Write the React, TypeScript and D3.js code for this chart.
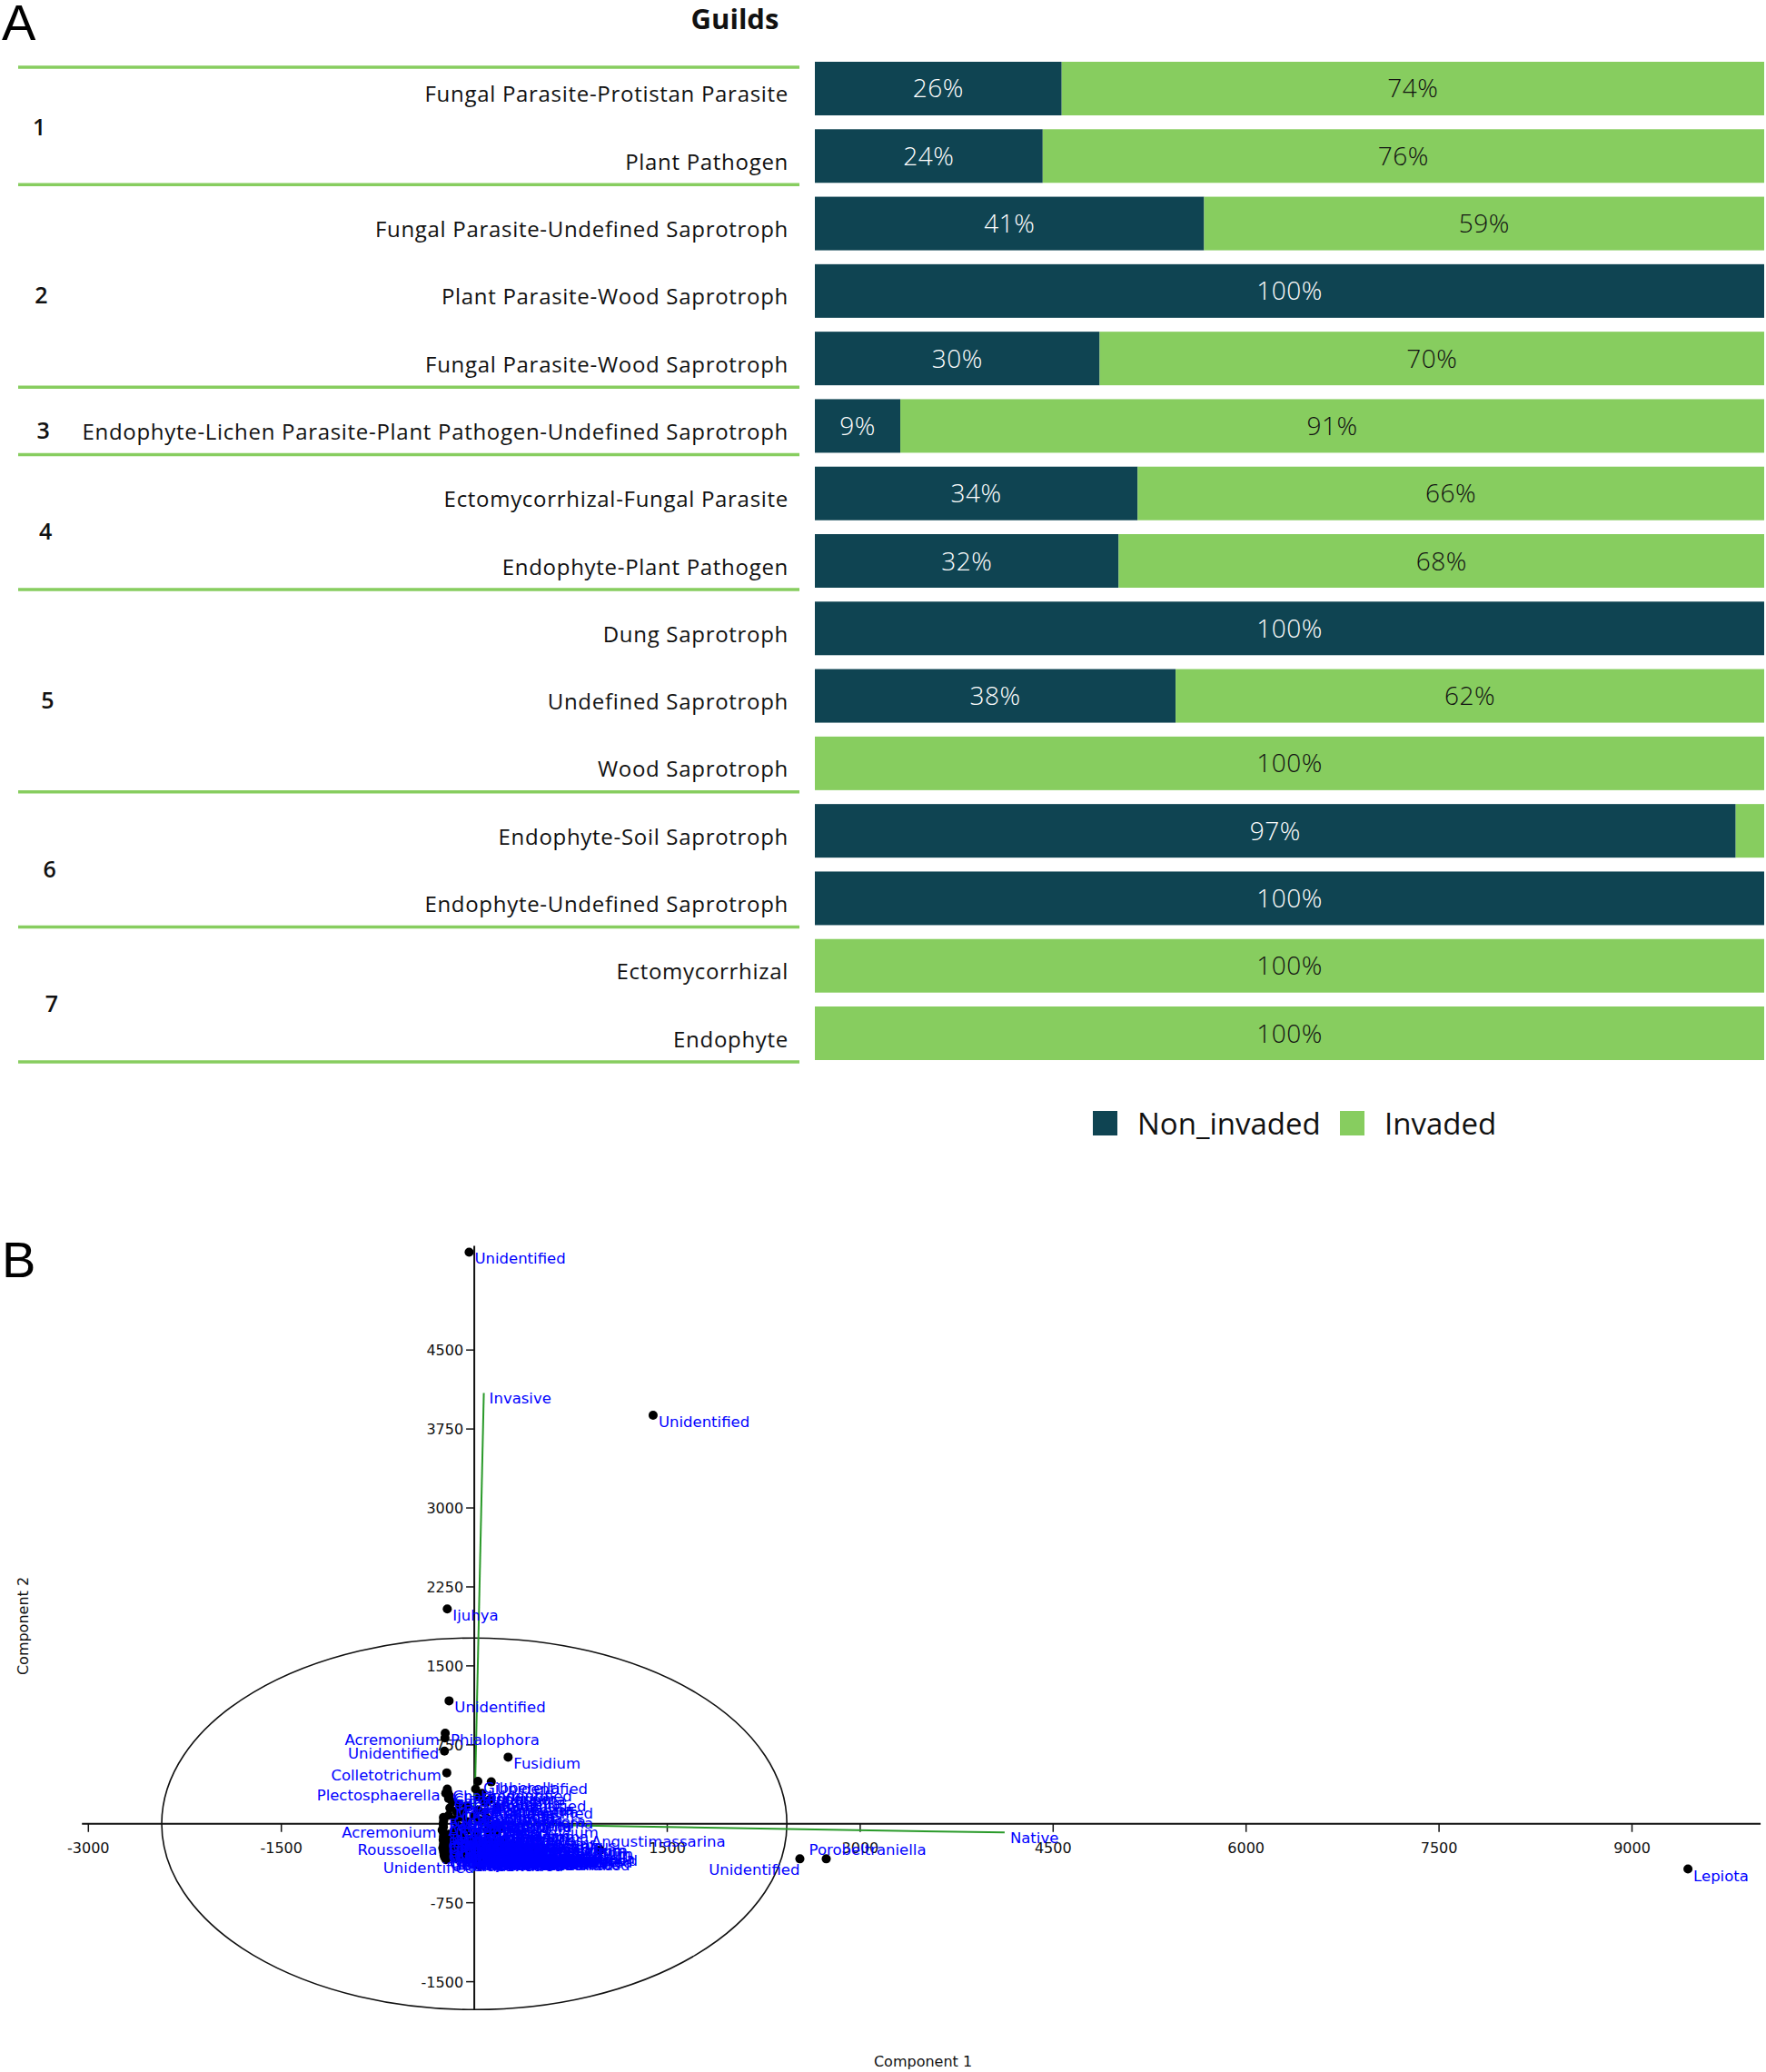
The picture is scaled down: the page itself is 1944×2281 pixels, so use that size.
import React from 'react';
import * as d3 from 'd3';

// ---------------- Panel A data ----------------
const guilds = [
  'Fungal Parasite-Protistan Parasite',
  'Plant Pathogen',
  'Fungal Parasite-Undefined Saprotroph',
  'Plant Parasite-Wood Saprotroph',
  'Fungal Parasite-Wood Saprotroph',
  'Endophyte-Lichen Parasite-Plant Pathogen-Undefined Saprotroph',
  'Ectomycorrhizal-Fungal Parasite',
  'Endophyte-Plant Pathogen',
  'Dung Saprotroph',
  'Undefined Saprotroph',
  'Wood Saprotroph',
  'Endophyte-Soil Saprotroph',
  'Endophyte-Undefined Saprotroph',
  'Ectomycorrhizal',
  'Endophyte',
];
const guildGroup = [1, 1, 2, 2, 2, 3, 4, 4, 5, 5, 5, 6, 6, 7, 7];
const groupIds = [1, 2, 3, 4, 5, 6, 7];
const nonInvaded = [26, 24, 41, 100, 30, 9, 34, 32, 100, 38, 0, 97, 100, 0, 0];
const invaded = [74, 76, 59, 0, 70, 91, 66, 68, 0, 62, 100, 3, 0, 100, 100];
const seriesKeys = ['Non_invaded', 'Invaded'];
const seriesColors = ['#0f4452', '#87cd5f'];

// ---------------- Panel B data ----------------
const xTicks = [-3000, -1500, 1500, 3000, 4500, 6000, 7500, 9000];
const yTicks = [4500, 3750, 3000, 2250, 1500, 750, -750, -1500];
// [label, component1, component2, labelSide]
const genusPoints: [string, number, number, string?][] = [
  ['Unidentified', -40, 5430],
  ['Unidentified', 1390, 3880],
  ['Ijuhya', -210, 2040],
  ['Unidentified', -196, 1168],
  ['Phialophora', -226, 860],
  ['Acremonium', -228, 815, 'l'],
  ['Unidentified', -232, 690, 'l'],
  ['Fusidium', 263, 633],
  ['Colletotrichum', -214, 484, 'l'],
  ['Gibberella', 28, 404],
  ['Unidentified', 132, 398],
  ['Plectosphaerella', -222, 290, 'l'],
  ['Chaetomium', -210, 330],
  ['Cladosporium', -205, 300],
  ['Unidentified', 10, 330],
  ['Sarocladium', -195, 270],
  ['Podospora', 60, 290],
  ['Unidentified', 174, 160],
  ['Cadophora', -200, 240],
  ['Paraphoma', -170, 210],
  ['Didymella', 40, 250],
  ['Pyrenochaeta', -120, 190],
  ['Neonectria', 90, 200],
  ['Leptosphaeria', -60, 170],
  ['Mortierella', -190, 150],
  ['Unidentified', 120, 230],
  ['Coniochaeta', -140, 120],
  ['Humicola', 30, 130],
  ['Ilyonectria', -90, 100],
  ['Exophiala', 80, 110],
  ['Fusarium', -240, 60],
  ['Penicillium', -238, 30],
  ['Alternaria', -242, 0],
  ['Unidentified', -240, -30],
  ['Tetracladium', -49, -60],
  ['Talaromyces', -238, -90],
  ['Pseudogymnoascus', -240, -120],
  ['Cylindrocarpon', -242, -150],
  ['Clonostachys', -238, -175],
  ['Chalara', -240, -200],
  ['Unidentified', -236, -225],
  ['Oidiodendron', -240, -250],
  ['Mycosphaerella', -238, -275],
  ['Unidentified', -235, -300],
  ['Geomyces', -230, -320],
  ['Aspergillus', -200, -100],
  ['Phoma', -180, -130],
  ['Epicoccum', -160, -70],
  ['Stachybotrys', -150, -160],
  ['Myrothecium', -120, -200],
  ['Volutella', -100, -120],
  ['Metarhizium', -80, -240],
  ['Beauveria', -60, -180],
  ['Lecanicillium', -40, -280],
  ['Purpureocillium', -20, -140],
  ['Pochonia', 0, -220],
  ['Paecilomyces', 20, -100],
  ['Scytalidium', 40, -260],
  ['Phaeoacremonium', 60, -190],
  ['Leptodontidium', 80, -300],
  ['Hymenoscyphus', 100, -150],
  ['Preussia', 120, -230],
  ['Sporormiella', 140, -280],
  ['Ascobolus', 160, -90],
  ['Schizothecium', 180, -200],
  ['Cercophora', 200, -250],
  ['Arthrobotrys', 220, -160],
  ['Dactylella', 240, -300],
  ['Mariannaea', 260, -230],
  ['Simplicillium', 280, -280],
  ['Botryotrichum', 300, -190],
  ['Gliomastix', 320, -260],
  ['Thelebolus', 340, -300],
  ['Microdochium', 360, -230],
  ['Periconia', 380, -280],
  ['Torula', 400, -250],
  ['Unidentified', 430, -290],
  ['Sagenomella', 450, -270],
  ['Unidentified', 480, -300],
  ['Unidentified', 520, -285],
  ['Cladophialophora', -200, 80],
  ['Monographella', -150, 40],
  ['Septoria', -100, 60],
  ['Ramularia', -50, 20],
  ['Neosetophoma', 0, 70],
  ['Setophoma', 50, 30],
  ['Pleospora', 100, 50],
  ['Stemphylium', 150, -20],
  ['Bipolaris', 200, -50],
  ['Curvularia', -130, -20],
  ['Drechslera', -70, -40],
  ['Lophiostoma', 100, -60],
  ['Sordaria', -200, -270],
  ['Unidentified', -220, -340],
  ['Unidentified', -180, -320],
  ['Unidentified', -140, -330],
  ['Unidentified', -100, -310],
  ['Unidentified', -60, -335],
  ['Unidentified', -20, -320],
  ['Unidentified', 20, -330],
  ['Unidentified', 60, -310],
  ['Unidentified', 100, -330],
  ['Unidentified', 140, -320],
  ['Unidentified', -210, -150],
  ['Pseudeurotium', -190, -200],
  ['Unidentified', -170, -250],
  ['Unidentified', -150, -290],
  ['Gibellulopsis', -130, -100],
  ['Unidentified', -110, -260],
  ['Verticillium', -90, -170],
  ['Unidentified', -70, -290],
  ['Unidentified', -30, -200],
  ['Trichocladium', 10, -170],
  ['Unidentified', 30, -290],
  ['Unidentified', 70, -240],
  ['Zopfiella', 110, -270],
  ['Unidentified', 150, -180],
  ['Unidentified', 190, -300],
  ['Staphylotrichum', 230, -230],
  ['Unidentified', 270, -320],
  ['Unidentified', 330, -330],
  ['Unidentified', 390, -320],
  ['Unidentified', 460, -330],
  ['Acremonium', -250, -60, 'l'],
  ['Roussoella', -245, -230, 'l'],
  ['Unidentified', 42, -400, 'l'],
  ['Angustimassarina', 980, -249, 'a'],
  ['Unidentified', 2531, -333, 'lb'],
  ['Porobeltraniella', 2736, -333, 'a2'],
  ['Lepiota', 9435, -430],
];
const loadings: [string, number, number][] = [
  ['Invasive', 74, 4092],
  ['Native', 4123, -83],
];
const ellipseRadii = [2430, 1765];
const xAxisExtent = [-3050, 10000];
const yAxisExtent = [-1765, 5490];

const labelOffsets: Record<string, { dx: number; dy: number; anchor: string }> = {
  r: { dx: 6, dy: 13, anchor: 'start' },
  l: { dx: -6, dy: 8, anchor: 'end' },
  a: { dx: -10, dy: -4, anchor: 'start' },
  a2: { dx: -19, dy: -4, anchor: 'start' },
  lb: { dx: 0, dy: 18, anchor: 'end' },
};

export default function App() {
  const W = 1944;
  const H = 2281;

  // ----- Panel A scales -----
  const yBand = d3
    .scaleBand<string>()
    .domain(guilds)
    .range([68, 1167])
    .paddingInner(0.206)
    .paddingOuter(0);
  const bw = yBand.bandwidth();
  const xPct = d3.scaleLinear().domain([0, 100]).range([897, 1942]);

  const rows = guilds.map((g, i) => ({ guild: g, Non_invaded: nonInvaded[i], Invaded: invaded[i] }));
  const stacked = d3.stack<any>().keys(seriesKeys)(rows);

  const groupInfo = groupIds.map((gid) => {
    const idx = guildGroup.map((g, i) => (g === gid ? i : -1)).filter((i) => i >= 0);
    const first = yBand(guilds[idx[0]])!;
    const last = yBand(guilds[idx[idx.length - 1]])! + bw;
    return { gid, top: first, bottom: last, center: (first + last) / 2 };
  });

  const fontA = '"Open Sans", "Noto Sans", sans-serif';
  const fontB = '"DejaVu Sans", sans-serif';

  // ----- Panel B scales -----
  const xs = d3.scaleLinear().domain([-3000, 9000]).range([97.3, 1796.5]);
  const ys = d3.scaleLinear().domain([-1500, 4500]).range([2181.6, 1486.2]);
  const ox = xs(0);
  const oy = ys(0);

  return (
    <svg
      width={W}
      height={H}
      viewBox={`0 0 ${W} ${H}`}
      style={{ position: 'absolute', left: 0, top: 0, background: '#fff' }}
    >
      <rect x={0} y={0} width={W} height={H} fill="#fff" />
      {/* ============ Panel A ============ */}
      <text x={2} y={44} fontFamily='"Liberation Sans", Arial, sans-serif' fontSize={56} fill="#000">
        A
      </text>
      <text x={809} y={32} textAnchor="middle" fontFamily={fontA} fontWeight={700} fontSize={31} fill="#111">
        Guilds
      </text>

      {/* separators */}
      <line x1={20} x2={880} y1={yBand(guilds[0])! + 6} y2={yBand(guilds[0])! + 6} stroke="#87cd5f" strokeWidth={3.5} />
      {groupInfo.map((g) => (
        <line key={'sep' + g.gid} x1={20} x2={880} y1={g.bottom + 2} y2={g.bottom + 2} stroke="#87cd5f" strokeWidth={3.5} />
      ))}

      {/* group numbers */}
      {groupInfo.map((g) => (
        <text key={'gn' + g.gid} x={36 + (g.gid - 1) * 2.3} y={g.center + 14} fontFamily={fontA} fontWeight={600} fontSize={25} fill="#111">
          {g.gid}
        </text>
      ))}

      {/* guild labels */}
      {guilds.map((g) => (
        <text
          key={'gl' + g}
          x={868}
          y={yBand(g)! + bw / 2 + 15}
          textAnchor="end"
          fontFamily={fontA}
          fontSize={24}
          letterSpacing={0.7}
          fill="#111"
        >
          {g}
        </text>
      ))}

      {/* bars */}
      {stacked.map((layer, si) => (
        <g key={'layer' + si}>
          {layer.map((d, i) => {
            const x0 = xPct(d[0]);
            const x1 = xPct(d[1]);
            const val = d[1] - d[0];
            if (val <= 0) return null;
            const yy = yBand(guilds[i])!;
            return (
              <g key={'b' + si + '-' + i}>
                <rect x={x0} y={yy} width={x1 - x0} height={bw} fill={seriesColors[si]} />
                {val >= 5 && (
                  <text
                    x={(x0 + x1) / 2}
                    y={yy + bw / 2 + 10}
                    textAnchor="middle"
                    fontFamily={fontA}
                    fontWeight={300}
                    fontSize={28}
                    letterSpacing={0.5}
                    fill={si === 0 ? '#ffffff' : '#111'}
                  >
                    {val}%
                  </text>
                )}
              </g>
            );
          })}
        </g>
      ))}

      {/* legend */}
      {seriesKeys.map((k, i) => {
        const lx = i === 0 ? 1203 : 1475;
        return (
          <g key={'lg' + k}>
            <rect x={lx} y={1223} width={27} height={27} fill={seriesColors[i]} />
            <text x={lx + 49} y={1249} fontFamily={fontA} fontSize={33} fill="#111">
              {k}
            </text>
          </g>
        );
      })}

      {/* ============ Panel B ============ */}
      <text x={2} y={1406} fontFamily='"Liberation Sans", Arial, sans-serif' fontSize={56} fill="#000">
        B
      </text>

      {/* ellipse */}
      <ellipse
        cx={ox}
        cy={oy}
        rx={xs(ellipseRadii[0]) - ox}
        ry={oy - ys(ellipseRadii[1])}
        fill="none"
        stroke="#111"
        strokeWidth={1.6}
      />

      {/* axes */}
      <line x1={xs(xAxisExtent[0])} x2={xs(xAxisExtent[1])} y1={oy} y2={oy} stroke="#111" strokeWidth={2.2} />
      <line x1={ox} x2={ox} y1={ys(yAxisExtent[1])} y2={ys(yAxisExtent[0])} stroke="#111" strokeWidth={2} />
      {xTicks.map((t) => (
        <g key={'xt' + t}>
          <line x1={xs(t)} x2={xs(t)} y1={oy} y2={oy + 9} stroke="#111" strokeWidth={1.5} />
          <text x={xs(t)} y={oy + 32} textAnchor="middle" fontFamily={fontB} fontSize={16} fill="#111">
            {t}
          </text>
        </g>
      ))}
      {yTicks.map((t) => (
        <g key={'yt' + t}>
          <line x1={ox - 9} x2={ox} y1={ys(t)} y2={ys(t)} stroke="#111" strokeWidth={1.5} />
          <text x={ox - 12} y={ys(t) + 6} textAnchor="end" fontFamily={fontB} fontSize={16} fill="#111">
            {t}
          </text>
        </g>
      ))}

      {/* loadings */}
      {loadings.map(([name, a, b]) => (
        <g key={'ld' + name}>
          <line x1={ox} y1={oy} x2={xs(a)} y2={ys(b)} stroke="#2a9a2a" strokeWidth={2} />
          <text x={xs(a) + 6} y={ys(b) + 12} fontFamily={fontB} fontSize={16.5} fill="#0000ff">
            {name}
          </text>
        </g>
      ))}

      {/* points */}
      {genusPoints.map(([name, a, b], i) => (
        <circle key={'pt' + i} cx={xs(a)} cy={ys(b)} r={5} fill="#000" />
      ))}
      {genusPoints.map(([name, a, b, side], i) => {
        const o = labelOffsets[side || 'r'];
        return (
          <text
            key={'pl' + i}
            x={xs(a) + o.dx}
            y={ys(b) + o.dy}
            textAnchor={o.anchor as any}
            fontFamily={fontB}
            fontSize={16.5}
            fill="#0000ff"
          >
            {name}
          </text>
        );
      })}

      {/* axis titles */}
      <text
        transform={`translate(31, 1790) rotate(-90)`}
        textAnchor="middle"
        fontFamily={fontB}
        fontSize={16}
        fill="#111"
      >
        Component 2
      </text>
      <text x={1016} y={2275} textAnchor="middle" fontFamily={fontB} fontSize={16} fill="#111">
        Component 1
      </text>
    </svg>
  );
}
